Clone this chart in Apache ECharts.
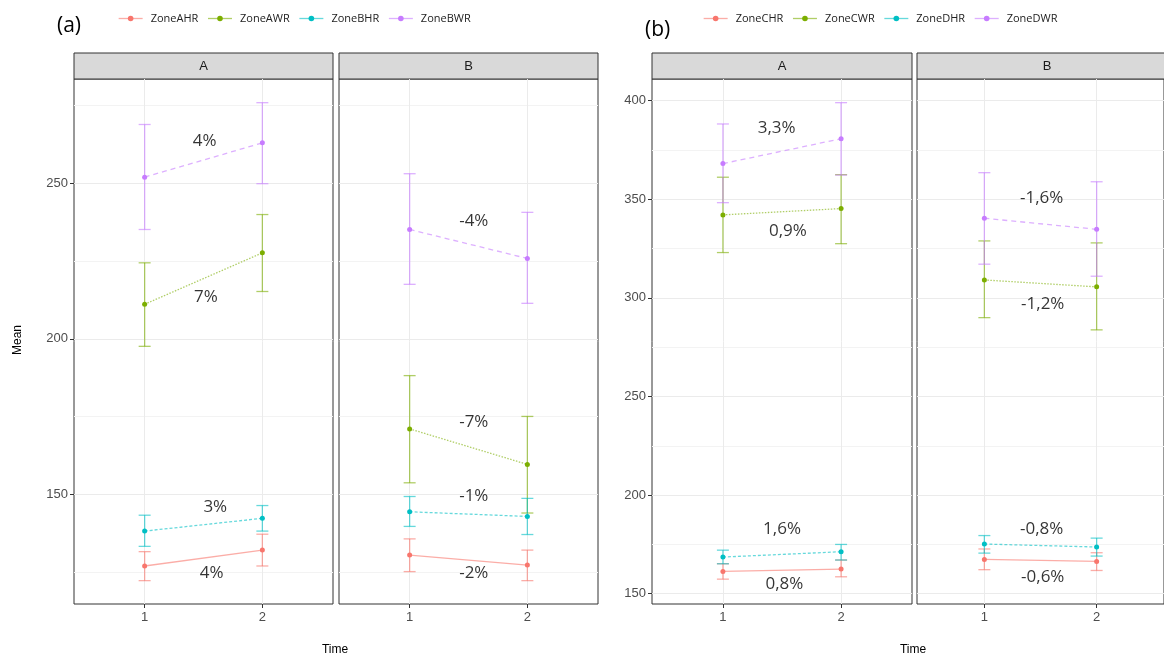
<!DOCTYPE html>
<html>
<head>
<meta charset="utf-8">
<script src="https://cdn.jsdelivr.net/npm/echarts@6/dist/echarts.min.js"></script>
<style>
  html, body { margin: 0; padding: 0; background: #fff; }
  #chart { width: 1164px; height: 657px; }
</style>
</head>
<body>
<div id="chart"></div>
<script>
'use strict';

/*
 * Zone means over time, two figures (a) and (b), each faceted into A and B
 */

const times = [1, 2];
const facets = ['A', 'B'];
const zonesA = ['ZoneAHR', 'ZoneAWR', 'ZoneBHR', 'ZoneBWR'];
const zonesB = ['ZoneCHR', 'ZoneCWR', 'ZoneDHR', 'ZoneDWR'];

// (a) facet A: rows are zones, columns are times
const aMeanA = [[127.1, 132.2], [211.1, 227.6], [138.3, 142.4], [251.9, 262.9]];
const aLowA = [[122.4, 127.1], [197.6, 215.2], [133.4, 138.3], [235.1, 249.8]];
const aHighA = [[131.7, 137.3], [224.4, 239.9], [143.4, 146.5], [268.8, 275.8]];
// (a) facet B
const aMeanB = [[130.6, 127.4], [171.1, 159.7], [144.5, 143.0], [235.1, 225.8]];
const aLowB = [[125.3, 122.4], [153.8, 144.1], [139.8, 137.2], [217.5, 211.4]];
const aHighB = [[135.8, 132.2], [188.2, 175.1], [149.4, 148.8], [253.0, 240.6]];
// (b) facet A
const bMeanA = [[161.3, 162.5], [342.1, 345.3], [168.6, 171.3], [368.1, 380.7]];
const bLowA = [[157.4, 158.6], [323.0, 327.5], [165.2, 167.1], [348.3, 362.3]];
const bHighA = [[165.2, 167.1], [361.2, 362.5], [172.1, 175.0], [388.2, 399.0]];
// (b) facet B
const bMeanB = [[167.4, 166.4], [309.1, 305.6], [175.2, 173.7], [340.4, 334.8]];
const bLowB = [[162.2, 161.8], [290.0, 283.8], [170.6, 169.1], [317.1, 311.0]];
const bHighB = [[172.7, 170.8], [328.9, 327.9], [179.5, 178.2], [363.5, 358.9]];

// change labels: [time position, value, text]
const aLabelsA = [[1.51, 263.3, '4%'], [1.52, 213.3, '7%'], [1.60, 145.9, '3%'], [1.57, 124.9, '4%']];
const aLabelsB = [[1.545, 237.8, '-4%'], [1.545, 173.2, '-7%'], [1.545, 149.5, '-1%'], [1.545, 124.7, '-2%']];
const bLabelsA = [[1.455, 386.3, '3,3%'], [1.55, 333.6, '0,9%'], [1.50, 182.9, '1,6%'], [1.52, 154.9, '0,8%']];
const bLabelsB = [[1.51, 350.5, '-1,6%'], [1.52, 297.0, '-1,2%'], [1.51, 182.9, '-0,8%'], [1.52, 158.3, '-0,6%']];

// axes
const xRange = [0.4, 2.6];
const aYRange = [114.9, 283.4];
const aYTicks = [150, 200, 250];
const aYMinor = [125, 175, 225, 275];
const bYRange = [144.8, 411.0];
const bYTicks = [150, 200, 250, 300, 350, 400];
const bYMinor = [175, 225, 275, 325, 375];

const colors = ['#F8766D', '#7CAE00', '#00BFC4', '#C77CFF'];
const fades = ['rgba(248,118,109,0.6)', 'rgba(124,174,0,0.6)', 'rgba(0,191,196,0.6)', 'rgba(199,124,255,0.6)'];
const dashes = ['solid', [1.5, 1.5], [3, 2], [5, 4]];

const PLOT_TOP = 79;
const PLOT_H = 525;
const STRIP_H = 26;

const panels = [
    { left: 74, width: 259, facet: 0, zones: zonesA, mean: aMeanA, low: aLowA, high: aHighA, labels: aLabelsA, range: aYRange, ticks: aYTicks, minor: aYMinor, showY: true },
    { left: 339, width: 259, facet: 1, zones: zonesA, mean: aMeanB, low: aLowB, high: aHighB, labels: aLabelsB, range: aYRange, ticks: aYTicks, minor: aYMinor, showY: false },
    { left: 652, width: 260, facet: 0, zones: zonesB, mean: bMeanA, low: bLowA, high: bHighA, labels: bLabelsA, range: bYRange, ticks: bYTicks, minor: bYMinor, showY: true },
    { left: 917, width: 260, facet: 1, zones: zonesB, mean: bMeanB, low: bLowB, high: bHighB, labels: bLabelsB, range: bYRange, ticks: bYTicks, minor: bYMinor, showY: false }
];

const tickFont = { color: '#4d4d4d', fontSize: 13, fontFamily: 'Liberation Sans' };

const grids = panels.map(p => ({
    left: p.left, top: PLOT_TOP, width: p.width, height: PLOT_H,
    show: true, borderColor: '#333', borderWidth: 1, backgroundColor: 'transparent'
}));

const xAxes = panels.map((p, i) => ({
    type: 'value', gridIndex: i, min: xRange[0], max: xRange[1],
    axisLine: { show: false },
    axisTick: { show: true, length: 4, customValues: times, lineStyle: { color: '#333' } },
    axisLabel: { show: true, customValues: times, margin: 7, ...tickFont },
    splitLine: { show: true, lineStyle: { color: '#EBEBEB', width: 1 } }
}));

const yAxes = [];
panels.forEach((p, i) => {
    yAxes.push({
        type: 'value', gridIndex: i, min: p.range[0], max: p.range[1],
        axisLine: { show: false },
        axisTick: { show: p.showY, length: 4, customValues: p.ticks, lineStyle: { color: '#333' } },
        axisLabel: { show: p.showY, customValues: p.ticks, margin: 6, ...tickFont },
        splitLine: { show: true, lineStyle: { color: '#EBEBEB', width: 1 } }
    });
    yAxes.push({
        type: 'value', gridIndex: i, min: p.range[0], max: p.range[1],
        axisLine: { show: false },
        axisTick: { show: false, customValues: p.minor },
        axisLabel: { show: false },
        splitLine: { show: true, lineStyle: { color: '#F3F3F3', width: 1 } }
    });
});

const lineSeries = [];
const barSeries = [];
const textSeries = [];

panels.forEach((p, i) => {
    p.zones.forEach((zone, z) => {
        lineSeries.push({
            name: zone, type: 'line', xAxisIndex: i, yAxisIndex: i * 2,
            data: times.map((t, k) => [t, p.mean[z][k]]),
            symbol: 'circle', symbolSize: 5, z: 4,
            itemStyle: { color: colors[z] },
            lineStyle: { color: fades[z], width: 1.3, type: dashes[z] },
            emphasis: { disabled: true }, animation: false
        });
        barSeries.push({
            name: zone, type: 'custom', xAxisIndex: i, yAxisIndex: i * 2, z: 3,
            data: times.map((t, k) => [t, p.low[z][k], p.high[z][k]]),
            encode: { x: 0, y: [1, 2] },
            renderItem: (params, api) => {
                const lo = api.coord([api.value(0), api.value(1)]);
                const hi = api.coord([api.value(0), api.value(2)]);
                const w = 6;
                const style = { stroke: fades[z], lineWidth: 1.3 };
                return {
                    type: 'group',
                    children: [
                        { type: 'line', shape: { x1: lo[0], y1: lo[1], x2: hi[0], y2: hi[1] }, style },
                        { type: 'line', shape: { x1: hi[0] - w, y1: hi[1], x2: hi[0] + w, y2: hi[1] }, style },
                        { type: 'line', shape: { x1: lo[0] - w, y1: lo[1], x2: lo[0] + w, y2: lo[1] }, style }
                    ]
                };
            },
            animation: false
        });
    });
    textSeries.push({
        name: 'labels' + i, type: 'scatter', xAxisIndex: i, yAxisIndex: i * 2,
        symbolSize: 0, silent: true, z: 5,
        data: p.labels.map(l => ({ value: [l[0], l[1]], name: l[2] })),
        label: {
            show: true, position: 'inside', formatter: '{b}',
            color: '#000', fontSize: 17, fontFamily: 'Open Sans'
        },
        animation: false
    });
});

const legendBase = {
    top: 13, padding: 0, itemWidth: 24, itemHeight: 7, itemGap: 9,
    lineStyle: { type: 'solid', width: 1.3 },
    textStyle: { color: '#222', fontSize: 11, fontFamily: 'Open Sans', padding: [0, 0, 0, 3] },
    selectedMode: false
};

const graphics = [
    { type: 'text', left: 57, top: 16, style: { text: '(a)', fontSize: 21, fontFamily: 'Open Sans', fill: '#000' } },
    { type: 'text', left: 645, top: 20, style: { text: '(b)', fontSize: 21, fontFamily: 'Open Sans', fill: '#000' } },
    { type: 'text', x: 18, y: 340, rotation: Math.PI / 2, style: { text: 'Mean', fontSize: 12, fontFamily: 'Liberation Sans', fill: '#000', align: 'center', verticalAlign: 'middle' } },
    { type: 'text', x: 335, y: 650, style: { text: 'Time', fontSize: 12, fontFamily: 'Liberation Sans', fill: '#000', align: 'center', verticalAlign: 'middle' } },
    { type: 'text', x: 913, y: 650, style: { text: 'Time', fontSize: 12, fontFamily: 'Liberation Sans', fill: '#000', align: 'center', verticalAlign: 'middle' } }
];
panels.forEach(p => {
    graphics.push({
        type: 'rect', shape: { x: p.left, y: PLOT_TOP - STRIP_H, width: p.width, height: STRIP_H },
        style: { fill: '#D9D9D9', stroke: '#333', lineWidth: 1 }
    });
    graphics.push({
        type: 'text', x: p.left + p.width / 2, y: PLOT_TOP - STRIP_H / 2,
        style: { text: facets[p.facet], fontSize: 13, fontFamily: 'Liberation Sans', fill: '#1a1a1a', align: 'center', verticalAlign: 'middle' }
    });
});

const chart = echarts.init(document.getElementById('chart'));
chart.setOption({
    backgroundColor: '#fff',
    animation: false,
    grid: grids,
    xAxis: xAxes,
    yAxis: yAxes,
    legend: [
        Object.assign({}, legendBase, { left: 118, data: zonesA }),
        Object.assign({}, legendBase, { left: 703, data: zonesB })
    ],
    graphic: graphics,
    series: lineSeries.concat(barSeries, textSeries)
});
</script>
</body>
</html>
